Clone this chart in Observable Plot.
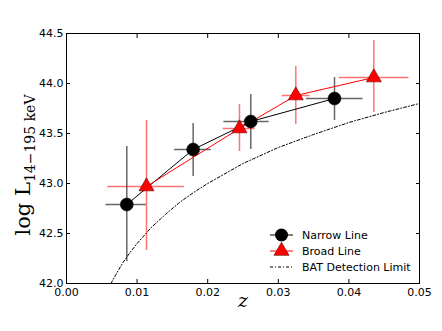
<!DOCTYPE html>
<html><head><meta charset="utf-8">
<script src="https://cdn.jsdelivr.net/npm/d3@7"></script>
<script src="https://cdn.jsdelivr.net/npm/@observablehq/plot@0.6"></script>
<style>body{margin:0;background:#fff}</style>
</head><body><div id="chart"></div>
<script>
// Narrow line sample
const zNarrow   = [0.00854, 0.01794, 0.0261, 0.03796];
const LNarrow   = [42.79, 43.34, 43.62, 43.85];
const zNarrowLo = [0.0056, 0.0153, 0.0223, 0.0340];
const zNarrowHi = [0.0113, 0.0205, 0.0287, 0.0420];
const LNarrowLo = [42.22, 43.07, 43.34, 43.63];
const LNarrowHi = [43.37, 43.60, 43.89, 44.06];
// Broad line sample
const zBroad   = [0.01133, 0.0245, 0.03248, 0.04353];
const LBroad   = [42.97, 43.55, 43.88, 44.06];
const zBroadLo = [0.00585, 0.0222, 0.03055, 0.03862];
const zBroadHi = [0.0167, 0.0267, 0.0345, 0.0485];
const LBroadLo = [42.33, 43.32, 43.59, 43.71];
const LBroadHi = [43.63, 43.79, 44.17, 44.43];
// BAT detection limit curve
const zLimit = [0.0063, 0.007, 0.008, 0.009, 0.010, 0.012, 0.014, 0.016, 0.018, 0.020, 0.025, 0.030, 0.035, 0.040, 0.045, 0.050];
const LLimit = [42.00, 42.09, 42.21, 42.31, 42.40, 42.56, 42.69, 42.81, 42.91, 43.00, 43.20, 43.36, 43.49, 43.61, 43.71, 43.80];
// ticks
const xTicks = [0.00, 0.01, 0.02, 0.03, 0.04, 0.05];
const yTicks = [42.0, 42.5, 43.0, 43.5, 44.0, 44.5];
const legendLabels = ["Narrow Line", "Broad Line", "BAT Detection Limit"];

const narrow = zNarrow.map((z, i) => ({z, L: LNarrow[i], zlo: zNarrowLo[i], zhi: zNarrowHi[i], llo: LNarrowLo[i], lhi: LNarrowHi[i]}));
const broad = zBroad.map((z, i) => ({z, L: LBroad[i], zlo: zBroadLo[i], zhi: zBroadHi[i], llo: LBroadLo[i], lhi: LBroadHi[i]}));
const limit = zLimit.map((z, i) => ({z, L: LLimit[i]}));

const errN = "rgba(0,0,0,0.6)";
const errB = "rgba(255,0,0,0.55)";

const plot = Plot.plot({
  width: 442, height: 331,
  marginLeft: 66, marginRight: 23, marginTop: 33, marginBottom: 48,
  style: {fontFamily: "DejaVu Sans, sans-serif", fontSize: "11px", background: "#fff"},
  x: {domain: [0, 0.05]},
  y: {domain: [42, 44.5]},
  marks: [
    Plot.line(limit, {x: "z", y: "L", stroke: "black", strokeWidth: 1, strokeDasharray: "3,2,1,2"}),
    Plot.ruleX(narrow, {x: "z", y1: "llo", y2: "lhi", stroke: errN, strokeWidth: 1.5}),
    Plot.ruleY(narrow, {y: "L", x1: "zlo", x2: "zhi", stroke: errN, strokeWidth: 1.5}),
    Plot.ruleX(broad, {x: "z", y1: "llo", y2: "lhi", stroke: errB, strokeWidth: 1.5}),
    Plot.ruleY(broad, {y: "L", x1: "zlo", x2: "zhi", stroke: errB, strokeWidth: 1.5}),
    Plot.line(narrow, {x: "z", y: "L", stroke: "black", strokeWidth: 1}),
    Plot.line(broad, {x: "z", y: "L", stroke: "red", strokeWidth: 1}),
    Plot.dot(narrow, {x: "z", y: "L", r: 6.5, fill: "black", stroke: "black", strokeWidth: 0.5}),
    Plot.dot(broad, {x: "z", y: "L", r: 5.6, symbol: "triangle", fill: "red", stroke: "#600", strokeWidth: 0.6}),
    Plot.frame({stroke: "black", strokeWidth: 1}),
    Plot.axisX({ticks: xTicks, tickSize: -4, tickPadding: 9, tickFormat: d3.format(".2f"), label: null}),
    Plot.axisX({ticks: xTicks, anchor: "top", tickSize: -4, tickFormat: () => "", label: null}),
    Plot.axisY({ticks: yTicks, tickSize: -4, tickPadding: 7, tickFormat: d3.format(".1f"), label: null}),
    Plot.axisY({ticks: yTicks, anchor: "right", tickSize: -4, tickFormat: () => "", label: null})
  ]
});
document.getElementById("chart").appendChild(plot);

const svg = d3.select(plot);
// x label
svg.append("text").attr("x", 243).attr("y", 307).attr("text-anchor", "middle")
  .attr("font-family", "DejaVu Serif, serif").attr("font-style", "italic").attr("font-size", 19).text("z");
// y label
const yl = svg.append("text").attr("transform", "translate(30,165) rotate(-90)").attr("text-anchor", "middle")
  .attr("font-family", "DejaVu Serif, serif").attr("font-size", 21);
yl.append("tspan").text("log L");
yl.append("tspan").attr("font-size", 14).attr("dy", 5).text("14\u2212195 keV");

// legend
const lg = svg.append("g").attr("font-family", "DejaVu Sans, sans-serif").attr("font-size", 11).attr("text-anchor", "start");
const rows = [235, 251, 267];
const x0 = 270, x1 = 293;
// narrow
lg.append("line").attr("x1", x0).attr("x2", x1).attr("y1", rows[0]).attr("y2", rows[0]).attr("stroke", "black");
lg.append("circle").attr("cx", (x0 + x1) / 2).attr("cy", rows[0]).attr("r", 6.5).attr("fill", "black");
// broad
lg.append("line").attr("x1", x0).attr("x2", x1).attr("y1", rows[1]).attr("y2", rows[1]).attr("stroke", "red");
lg.append("path").attr("transform", `translate(${(x0 + x1) / 2},${rows[1]})`)
  .attr("d", d3.symbol(d3.symbolTriangle, Math.PI * 5.6 * 5.6)()).attr("fill", "red").attr("stroke", "#600").attr("stroke-width", 0.6);
// limit
lg.append("line").attr("x1", x0).attr("x2", x1).attr("y1", rows[2]).attr("y2", rows[2]).attr("stroke", "black").attr("stroke-dasharray", "3,2,1,2");
legendLabels.forEach((t, i) => {
  lg.append("text").attr("x", 302).attr("y", rows[i]).attr("dy", "0.35em").attr("text-anchor", "start").text(t);
});
</script>
</body></html>
